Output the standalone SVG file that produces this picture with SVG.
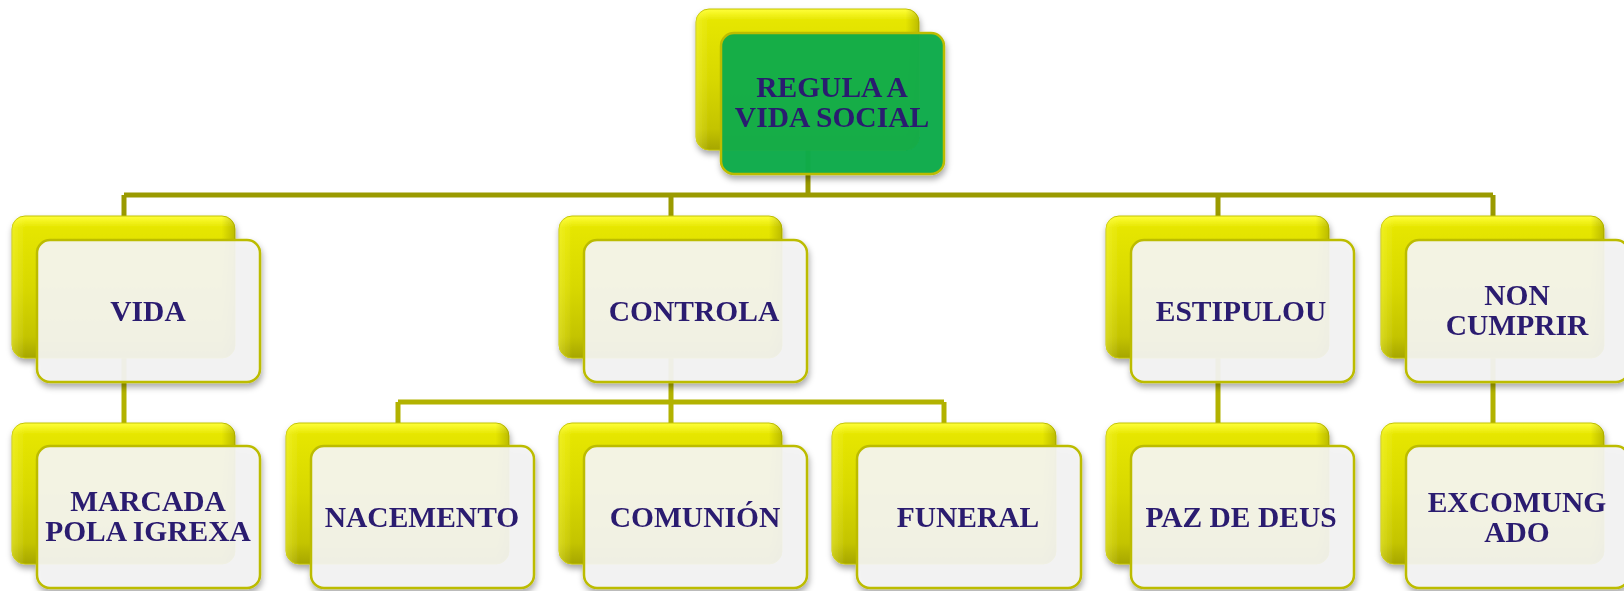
<svg xmlns="http://www.w3.org/2000/svg" width="1624" height="591" viewBox="0 0 1624 591">
<defs>
<linearGradient id="yel" x1="0" y1="0" x2="0" y2="1">
<stop offset="0" stop-color="#ffff3a"/>
<stop offset="0.08" stop-color="#e6e600"/>
<stop offset="0.5" stop-color="#d8d800"/>
<stop offset="0.85" stop-color="#c4c400"/>
<stop offset="1" stop-color="#a6a600"/>
</linearGradient>
<linearGradient id="yelside" x1="0" y1="0" x2="1" y2="0">
<stop offset="0" stop-color="#ffff60" stop-opacity="0.35"/>
<stop offset="0.06" stop-color="#ffff60" stop-opacity="0"/>
<stop offset="0.94" stop-color="#000" stop-opacity="0"/>
<stop offset="1" stop-color="#000" stop-opacity="0.18"/>
</linearGradient>
<filter id="sh" x="-10%" y="-10%" width="125%" height="130%">
<feDropShadow dx="1" dy="4" stdDeviation="3" flood-color="#000" flood-opacity="0.35"/>
</filter>
</defs>
<style>
.back{fill:url(#yel);stroke:#c2c200;stroke-width:1}
.side{fill:url(#yelside)}
.front{fill:#f4f4f4;fill-opacity:0.93;stroke:#bcbc00;stroke-width:2.5}
.green{fill:#0fac4a;fill-opacity:0.96;stroke:#bcbc00;stroke-width:2.5}
.lbl{font-family:"Liberation Serif","Times New Roman",serif;font-weight:bold;font-size:29.5px;fill:#2b1a6f;text-anchor:middle}
.c1{stroke:#9a9a00;stroke-width:5;fill:none}
.c2{stroke:#b2b200;stroke-width:5;fill:none}
</style>
<rect width="1624" height="591" fill="#ffffff"/>
<g id="connectors">
<path class="c1" d="M808 150 V195 M124 195 H1493 M124 195 V216 M671 195 V216 M1218 195 V216 M1493 195 V216"/>
<path class="c2" d="M124 358 V423 M671 358 V402 M398 402 H944 M398 402 V423 M671 402 V423 M944 402 V423 M1218 358 V423 M1493 358 V423"/>
</g>
<g id="node-regula" filter="url(#sh)">
<rect class="back" x="696" y="9" width="223" height="141" rx="13"/>
<rect class="side" x="696" y="9" width="223" height="141" rx="13"/>
<rect class="green" x="721" y="33" width="223" height="141" rx="13"/>
<text class="lbl" x="832" y="97">REGULA A</text>
<text class="lbl" x="832" y="127">VIDA SOCIAL</text>
</g>
<g id="node-vida" filter="url(#sh)">
<rect class="back" x="12" y="216" width="223" height="142" rx="13"/>
<rect class="side" x="12" y="216" width="223" height="142" rx="13"/>
<rect class="front" x="37" y="240" width="223" height="142" rx="13"/>
<text class="lbl" x="148" y="321">VIDA</text>
</g>
<g id="node-controla" filter="url(#sh)">
<rect class="back" x="559" y="216" width="223" height="142" rx="13"/>
<rect class="side" x="559" y="216" width="223" height="142" rx="13"/>
<rect class="front" x="584" y="240" width="223" height="142" rx="13"/>
<text class="lbl" x="694" y="321">CONTROLA</text>
</g>
<g id="node-estipulou" filter="url(#sh)">
<rect class="back" x="1106" y="216" width="223" height="142" rx="13"/>
<rect class="side" x="1106" y="216" width="223" height="142" rx="13"/>
<rect class="front" x="1131" y="240" width="223" height="142" rx="13"/>
<text class="lbl" x="1241" y="321">ESTIPULOU</text>
</g>
<g id="node-noncumprir" filter="url(#sh)">
<rect class="back" x="1381" y="216" width="223" height="142" rx="13"/>
<rect class="side" x="1381" y="216" width="223" height="142" rx="13"/>
<rect class="front" x="1406" y="240" width="223" height="142" rx="13"/>
<text class="lbl" x="1517" y="305">NON</text>
<text class="lbl" x="1517" y="335">CUMPRIR</text>
</g>
<g id="node-marcada" filter="url(#sh)">
<rect class="back" x="12" y="423" width="223" height="141" rx="13"/>
<rect class="side" x="12" y="423" width="223" height="141" rx="13"/>
<rect class="front" x="37" y="446" width="223" height="142" rx="13"/>
<text class="lbl" x="148" y="511">MARCADA</text>
<text class="lbl" x="148" y="541">POLA IGREXA</text>
</g>
<g id="node-nacemento" filter="url(#sh)">
<rect class="back" x="286" y="423" width="223" height="141" rx="13"/>
<rect class="side" x="286" y="423" width="223" height="141" rx="13"/>
<rect class="front" x="311" y="446" width="223" height="142" rx="13"/>
<text class="lbl" x="422" y="527">NACEMENTO</text>
</g>
<g id="node-comunion" filter="url(#sh)">
<rect class="back" x="559" y="423" width="223" height="141" rx="13"/>
<rect class="side" x="559" y="423" width="223" height="141" rx="13"/>
<rect class="front" x="584" y="446" width="223" height="142" rx="13"/>
<text class="lbl" x="695" y="527">COMUNIÓN</text>
</g>
<g id="node-funeral" filter="url(#sh)">
<rect class="back" x="832" y="423" width="224" height="141" rx="13"/>
<rect class="side" x="832" y="423" width="224" height="141" rx="13"/>
<rect class="front" x="857" y="446" width="224" height="142" rx="13"/>
<text class="lbl" x="968" y="527">FUNERAL</text>
</g>
<g id="node-paz" filter="url(#sh)">
<rect class="back" x="1106" y="423" width="223" height="141" rx="13"/>
<rect class="side" x="1106" y="423" width="223" height="141" rx="13"/>
<rect class="front" x="1131" y="446" width="223" height="142" rx="13"/>
<text class="lbl" x="1241" y="527">PAZ DE DEUS</text>
</g>
<g id="node-excomungado" filter="url(#sh)">
<rect class="back" x="1381" y="423" width="223" height="141" rx="13"/>
<rect class="side" x="1381" y="423" width="223" height="141" rx="13"/>
<rect class="front" x="1406" y="446" width="223" height="142" rx="13"/>
<text class="lbl" x="1517" y="512">EXCOMUNG</text>
<text class="lbl" x="1517" y="542">ADO</text>
</g>
</svg>
